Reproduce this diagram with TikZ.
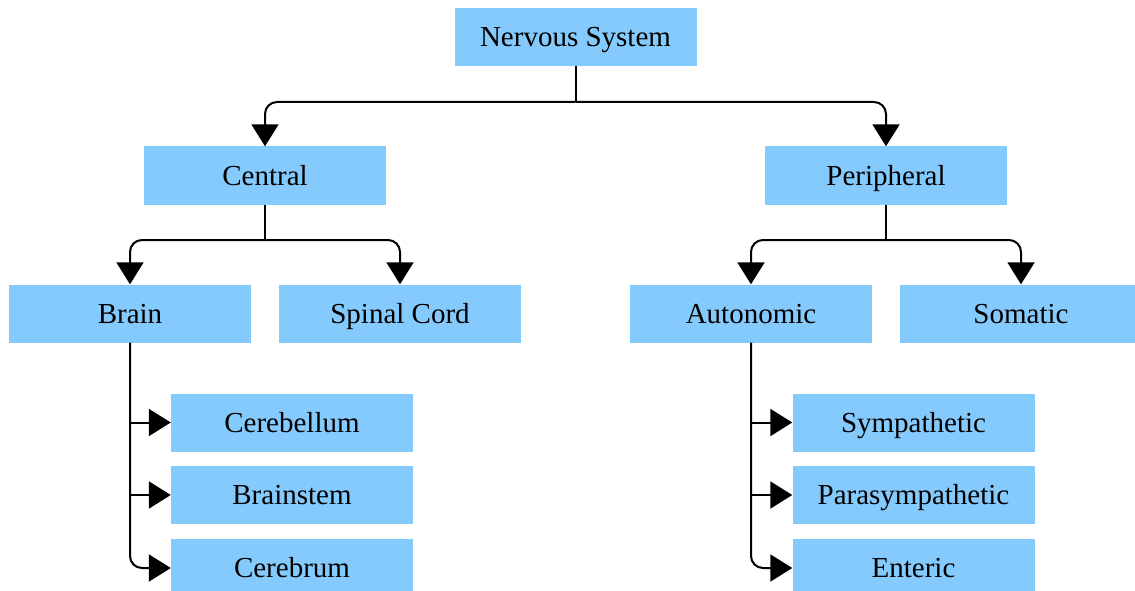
\documentclass[tikz,border=0pt]{standalone}
\usepackage{fontspec}
\setmainfont{Liberation Serif}
\usetikzlibrary{arrows.meta}
\definecolor{boxblue}{RGB}{133,202,252}
\tikzset{
  unit/.style={fill=boxblue, draw=none, minimum width=242pt, minimum height=58pt,
    inner sep=0pt, text height=19pt, text depth=0pt,
    font=\fontsize{29}{35}\selectfont, text=black},
  conn/.style={draw=black, line width=2pt,
    -{Triangle[width=27pt,length=22pt]}},
  elbow/.style={conn, rounded corners=12pt},
  stem/.style={draw=black, line width=2pt},
}
\begin{document}
\begin{tikzpicture}[x=1pt,y=-1pt]
\useasboundingbox (0,0) rectangle (1135,591);
\clip (0,0) rectangle (1135,591);
% tree nodes
\node[unit] (ns) at (575.5,37) {Nervous System};
\node[unit] (central) at (265,175.5) {Central};
\node[unit] (peripheral) at (886,175.5) {Peripheral};
\node[unit] (brain) at (130,313.5) {Brain};
\node[unit] (spinal) at (400,313.5) {Spinal Cord};
\node[unit] (auto) at (751,313.5) {Autonomic};
\node[unit] (somatic) at (1021,313.5) {Somatic};
\node[unit] (cerebellum) at (292,422.5) {Cerebellum};
\node[unit] (brainstem) at (292,495) {Brainstem};
\node[unit] (cerebrum) at (292,568) {Cerebrum};
\node[unit] (symp) at (913.5,422.5) {Sympathetic};
\node[unit] (para) at (913.5,495) {Parasympathetic};
\node[unit] (enteric) at (913.5,568) {Enteric};
% junction points
\coordinate (j1) at (575.5,102);
\coordinate (j2) at (265,240);
\coordinate (j3) at (886,240);
% top level
\draw[stem] (ns.south) -- (j1);
\draw[elbow] (j1) -| (central.north);
\draw[elbow] (j1) -| (peripheral.north);
% central
\draw[stem] (central.south) -- (j2);
\draw[elbow] (j2) -| (brain.north);
\draw[elbow] (j2) -| (spinal.north);
% peripheral
\draw[stem] (peripheral.south) -- (j3);
\draw[elbow] (j3) -| (auto.north);
\draw[elbow] (j3) -| (somatic.north);
% brain parts
\draw[elbow] (brain.south) |- (cerebrum.west);
\draw[conn] (brain.south |- cerebellum.west) -- (cerebellum.west);
\draw[conn] (brain.south |- brainstem.west) -- (brainstem.west);
% autonomic divisions
\draw[elbow] (auto.south) |- (enteric.west);
\draw[conn] (auto.south |- symp.west) -- (symp.west);
\draw[conn] (auto.south |- para.west) -- (para.west);
\end{tikzpicture}
\end{document}
